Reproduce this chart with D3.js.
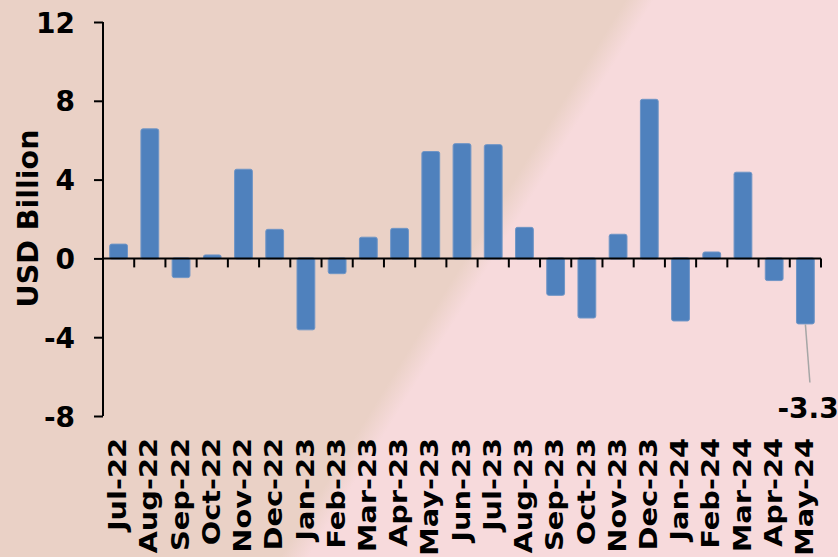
<!DOCTYPE html>
<html>
<head>
<meta charset="utf-8">
<script src="https://cdn.jsdelivr.net/npm/d3@7"></script>
<style>
  html, body { margin: 0; padding: 0; overflow: hidden; }
  svg { display: block; }
  text { font-family: "DejaVu Sans", Verdana, sans-serif; font-weight: bold; fill: #000; }
</style>
</head>
<body>
<script>
const categories = ["Jul-22","Aug-22","Sep-22","Oct-22","Nov-22","Dec-22","Jan-23","Feb-23","Mar-23","Apr-23","May-23","Jun-23","Jul-23","Aug-23","Sep-23","Oct-23","Nov-23","Dec-23","Jan-24","Feb-24","Mar-24","Apr-24","May-24"];
const values = [0.7, 6.55, -0.95, 0.15, 4.5, 1.45, -3.6, -0.75, 1.05, 1.5, 5.4, 5.8, 5.75, 1.55, -1.85, -3.0, 1.2, 8.05, -3.15, 0.3, 4.35, -1.1, -3.3];
const yTicks = [-8, -4, 0, 4, 8, 12];
const yDomain = [-8, 12];
const yTitle = "USD Billion";
const labelIndex = 22; // data label shown for May-24

const W = 838, H = 557;
const svg = d3.select("body").append("svg").attr("width", W).attr("height", H);

// background with diagonal split
const defs = svg.append("defs");
const cx = 467, cy = 278.5, nx = 0.85, ny = 0.527, half = 12;
const grad = defs.append("linearGradient").attr("id", "bg")
  .attr("gradientUnits", "userSpaceOnUse")
  .attr("x1", cx - half * nx).attr("y1", cy - half * ny)
  .attr("x2", cx + half * nx).attr("y2", cy + half * ny);
grad.append("stop").attr("offset", 0).attr("stop-color", "#EAD1C6");
grad.append("stop").attr("offset", 1).attr("stop-color", "#F7DADC");
svg.append("rect").attr("width", W).attr("height", H).attr("fill", "url(#bg)");

const x0 = 103, x1 = 821;
const x = d3.scaleBand().domain(categories).range([x0, x1]).padding(0);
const y = d3.scaleLinear().domain(yDomain).range([416, 22]);

// bars
const bw = x.bandwidth() * 0.57;
svg.append("g").selectAll("rect").data(values).join("rect")
  .attr("x", (d, i) => x(categories[i]) + (x.bandwidth() - bw) / 2)
  .attr("y", d => y(Math.max(0, d)) - 0.5)
  .attr("width", bw)
  .attr("height", d => Math.abs(y(d) - y(0)) + 1)
  .attr("rx", 2).attr("ry", 2)
  .attr("fill", "#4F81BD")
  .attr("stroke", "#6F95C6")
  .attr("stroke-width", 1);

// y axis
const yAxis = svg.append("g").attr("transform", `translate(${x0},0)`)
  .call(d3.axisLeft(y).tickValues(yTicks).tickSize(9).tickPadding(19).tickFormat(d => String(d)));
yAxis.select(".domain").attr("stroke", "#000").attr("stroke-width", 2).attr("d", `M0,${y(yDomain[1])}V${y(yDomain[0])}`);
yAxis.selectAll(".tick line").attr("stroke", "#000").attr("stroke-width", 2);
yAxis.selectAll(".tick text").attr("font-size", 28).attr("font-family", "DejaVu Sans").attr("font-weight", "bold").attr("fill", "#000").attr("dy", "0.36em");

// x axis line at zero with ticks at band boundaries
const xg = svg.append("g");
xg.append("line").attr("x1", x0).attr("x2", x1).attr("y1", y(0)).attr("y2", y(0))
  .attr("stroke", "#000").attr("stroke-width", 2);
const bounds = categories.map(c => x(c)).concat([x1]);
xg.selectAll("line.t").data(bounds.slice(1)).join("line").attr("class", "t")
  .attr("x1", d => d).attr("x2", d => d)
  .attr("y1", y(0)).attr("y2", y(0) + 9)
  .attr("stroke", "#000").attr("stroke-width", 2);

// x labels (rotated)
svg.append("g").selectAll("text").data(categories).join("text")
  .attr("transform", d => `translate(${x(d) + x.bandwidth() / 2 - 1},438) rotate(-90) scale(1.2,1)`)
  .attr("text-anchor", "end")
  .attr("dy", "0.36em")
  .attr("font-size", 24)
  .text(d => d);

// y title
svg.append("text")
  .attr("transform", `translate(28,${(130 + 307) / 2}) rotate(-90)`)
  .attr("text-anchor", "middle")
  .attr("dy", "0.36em")
  .attr("font-size", 28.5)
  .text(yTitle);

// data label with leader line
const lx = x(categories[labelIndex]) + x.bandwidth() / 2;
svg.append("line")
  .attr("x1", lx).attr("y1", y(values[labelIndex]) + 1)
  .attr("x2", lx + 4.5).attr("y2", y(-6.3))
  .attr("stroke", "#A6A6A6").attr("stroke-width", 1.5);
svg.append("text")
  .attr("x", lx - 28).attr("y", y(-8.1))
  .attr("font-size", 28)
  .text(values[labelIndex].toFixed(1));
</script>
</body>
</html>
